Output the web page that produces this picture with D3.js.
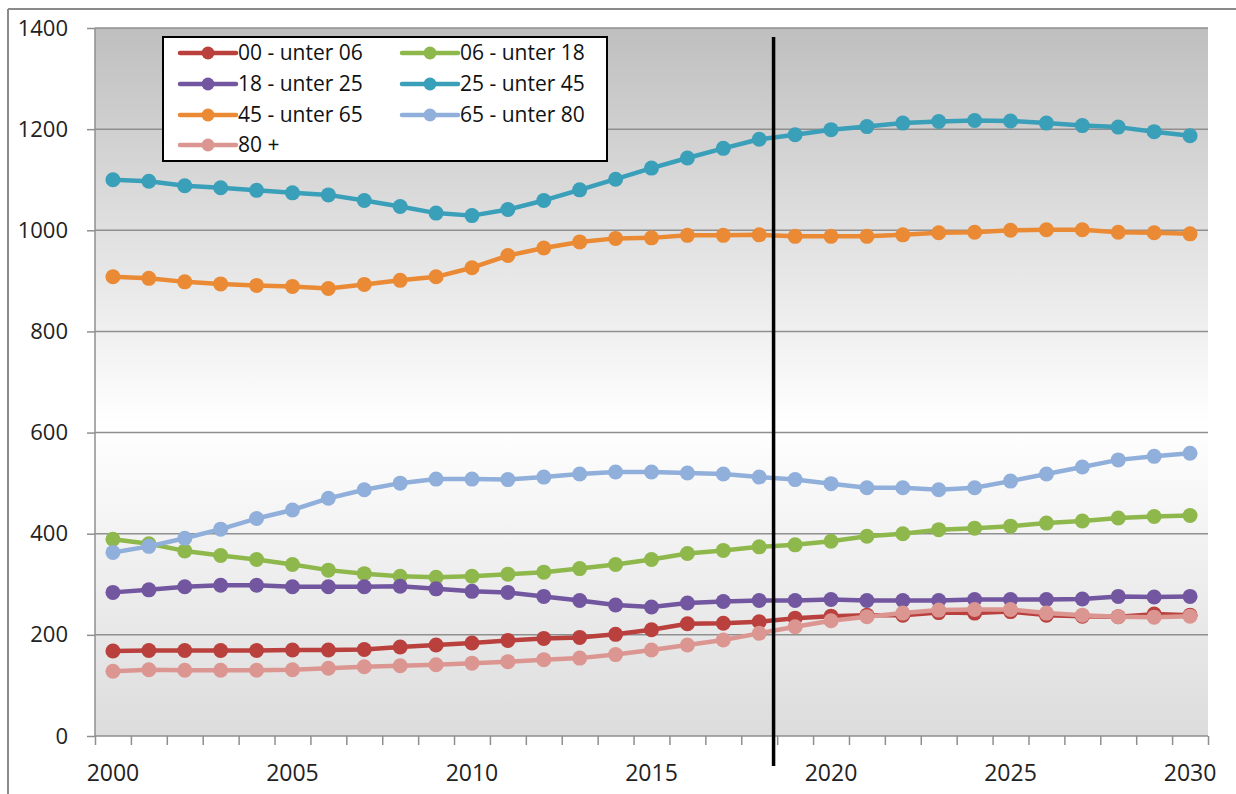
<!DOCTYPE html>
<html>
<head>
<meta charset="utf-8">
<script src="https://cdnjs.cloudflare.com/ajax/libs/d3/7.8.5/d3.min.js"></script>
<style>
  body { margin: 0; background: #fff; }
  svg { display: block; }
</style>
</head>
<body>
<div id="chart"></div>
<script>
var svgWidth = 1236;
var svgHeight = 794;

// chart data
var years = d3.range(2000, 2031);
var xTickLabels = [2000, 2005, 2010, 2015, 2020, 2025, 2030];
var yTickValues = [0, 200, 400, 600, 800, 1000, 1200, 1400];
var markerYear = 2018.4;

var seriesNames = ["00 - unter 06", "06 - unter 18", "18 - unter 25", "25 - unter 45",
  "45 - unter 65", "65 - unter 80", "80 +"];
var seriesColors = ["#b9403d", "#8fb84c", "#7256a0", "#3a9fb9", "#eb8a35", "#90afdb", "#dc9692"];

var age00_06 = [168, 169, 169, 169, 169, 170, 170, 171, 176, 180, 184, 189, 193, 195, 201, 210,
  222, 223, 226, 233, 237, 239, 239, 244, 243, 246, 239, 237, 236, 241, 239];
var age06_18 = [389, 380, 366, 357, 349, 339, 328, 321, 316, 314, 316, 320, 324, 331, 339, 349,
  361, 367, 374, 378, 385, 395, 400, 408, 411, 415, 421, 425, 431, 434, 436];
var age18_25 = [284, 289, 295, 298, 298, 295, 295, 295, 296, 291, 286, 284, 276, 268, 259, 255,
  263, 266, 268, 268, 270, 268, 268, 268, 270, 270, 270, 271, 276, 275, 276];
var age25_45 = [1100, 1097, 1088, 1084, 1079, 1074, 1070, 1059, 1047, 1034, 1029, 1041, 1059, 1080, 1101, 1123,
  1143, 1162, 1180, 1189, 1199, 1205, 1212, 1215, 1217, 1216, 1212, 1207, 1204, 1195, 1187];
var age45_65 = [908, 905, 898, 894, 891, 889, 885, 893, 901, 908, 926, 950, 965, 977, 984, 985,
  990, 990, 991, 988, 988, 988, 991, 995, 996, 1000, 1001, 1001, 996, 995, 993];
var age65_80 = [363, 375, 391, 409, 430, 447, 470, 487, 500, 508, 508, 507, 512, 518, 522, 522,
  520, 518, 512, 507, 499, 491, 491, 487, 491, 504, 518, 532, 546, 553, 559];
var age80plus = [128, 131, 130, 130, 130, 131, 134, 137, 139, 141, 144, 147, 151, 154, 161, 170,
  180, 190, 203, 216, 228, 236, 243, 249, 250, 250, 243, 239, 236, 235, 237];

var seriesValues = [age00_06, age06_18, age18_25, age25_45, age45_65, age65_80, age80plus];

var plot = { left: 95, right: 1208, top: 28, bottom: 736 };

var svg = d3.select("#chart")
  .append("svg")
  .attr("width", svgWidth)
  .attr("height", svgHeight);

// plot area background gradient (grey - white - grey)
var grad = svg.append("defs").append("linearGradient")
  .attr("id", "plotBg")
  .attr("x1", 0).attr("y1", 0).attr("x2", 0).attr("y2", 1);
grad.append("stop").attr("offset", "0%").attr("stop-color", "#bfbfbf");
grad.append("stop").attr("offset", "56%").attr("stop-color", "#ffffff");
grad.append("stop").attr("offset", "100%").attr("stop-color", "#dcdcdc");

// outer frame: only top and left edges are visible in the picture
svg.append("line")
  .attr("x1", 8).attr("x2", svgWidth).attr("y1", 9).attr("y2", 9)
  .attr("stroke", "#8a8a8a").attr("stroke-width", 2);
svg.append("line")
  .attr("x1", 8).attr("x2", 8).attr("y1", 9).attr("y2", svgHeight)
  .attr("stroke", "#8a8a8a").attr("stroke-width", 2);

var xScale = d3.scaleLinear()
  .domain([1999.5, 2030.5])
  .range([plot.left, plot.right]);

var yScale = d3.scaleLinear()
  .domain([0, 1400])
  .range([plot.bottom, plot.top]);

svg.append("rect")
  .attr("x", plot.left)
  .attr("y", plot.top)
  .attr("width", plot.right - plot.left)
  .attr("height", plot.bottom - plot.top)
  .attr("fill", "url(#plotBg)");

// horizontal gridlines
svg.append("g")
  .selectAll("line")
  .data(yTickValues.filter(d => d > 0))
  .enter()
  .append("line")
  .attr("x1", plot.left)
  .attr("x2", plot.right)
  .attr("y1", d => yScale(d))
  .attr("y2", d => yScale(d))
  .attr("stroke", "#8f8f8f")
  .attr("stroke-width", 1.5);

// y axis
var leftAxis = d3.axisLeft(yScale)
  .tickValues(yTickValues)
  .tickFormat(d3.format("d"))
  .tickSize(8)
  .tickPadding(19);

var yAxis = svg.append("g")
  .attr("transform", `translate(${plot.left}, 0)`)
  .call(leftAxis);
yAxis.select(".domain").attr("stroke", "#8f8f8f").attr("stroke-width", 1.5)
  .attr("d", `M0,${plot.top}V${plot.bottom}`);
yAxis.selectAll(".tick line").attr("stroke", "#8f8f8f").attr("stroke-width", 1.5);
yAxis.selectAll(".tick text")
  .attr("fill", "#222")
  .style("font-family", "'Open Sans', sans-serif")
  .style("font-size", "22px");

// x axis: ticks between the year categories, labels every 5 years
var bottomAxis = d3.axisBottom(xScale)
  .tickValues(d3.range(1999.5, 2031, 1))
  .tickSize(9)
  .tickFormat("");

var xAxis = svg.append("g")
  .attr("transform", `translate(0, ${plot.bottom})`)
  .call(bottomAxis);
xAxis.select(".domain").attr("stroke", "#8f8f8f").attr("stroke-width", 1.5)
  .attr("d", `M${plot.left},0H${plot.right}`);
xAxis.selectAll(".tick line").attr("stroke", "#8f8f8f").attr("stroke-width", 1.5);

svg.append("g")
  .selectAll("text")
  .data(xTickLabels)
  .enter()
  .append("text")
  .attr("x", d => xScale(d))
  .attr("y", 781)
  .attr("text-anchor", "middle")
  .attr("fill", "#222")
  .style("font-family", "'Open Sans', sans-serif")
  .style("font-size", "23px")
  .text(d => d);

// series lines and markers
var lineGen = d3.line()
  .x((d, i) => xScale(years[i]))
  .y(d => yScale(d));

seriesValues.forEach(function(values, s) {
  var g = svg.append("g");
  g.append("path")
    .datum(values)
    .attr("d", lineGen)
    .attr("fill", "none")
    .attr("stroke", seriesColors[s])
    .attr("stroke-width", 4.5)
    .attr("stroke-linejoin", "round");
  g.selectAll("circle")
    .data(values)
    .enter()
    .append("circle")
    .attr("cx", (d, i) => xScale(years[i]))
    .attr("cy", d => yScale(d))
    .attr("r", 7.5)
    .attr("fill", seriesColors[s]);
});

// vertical marker line
svg.append("line")
  .attr("x1", xScale(markerYear))
  .attr("x2", xScale(markerYear))
  .attr("y1", 37)
  .attr("y2", 766)
  .attr("stroke", "#000")
  .attr("stroke-width", 3.5);

// legend
var legend = svg.append("g");
legend.append("rect")
  .attr("x", 163)
  .attr("y", 37)
  .attr("width", 444)
  .attr("height", 124)
  .attr("fill", "#fff")
  .attr("stroke", "#000")
  .attr("stroke-width", 2);

var legendRows = [53, 84, 115, 145];
var legendCols = [180, 402];

seriesNames.forEach(function(name, s) {
  var lx = legendCols[s % 2];
  var ly = legendRows[Math.floor(s / 2)];
  legend.append("line")
    .attr("x1", lx).attr("x2", lx + 56)
    .attr("y1", ly).attr("y2", ly)
    .attr("stroke", seriesColors[s])
    .attr("stroke-width", 4.5)
    .attr("stroke-linecap", "round");
  legend.append("circle")
    .attr("cx", lx + 28)
    .attr("cy", ly)
    .attr("r", 6.5)
    .attr("fill", seriesColors[s]);
  legend.append("text")
    .attr("x", lx + 58)
    .attr("y", ly)
    .attr("dy", "0.35em")
    .attr("fill", "#111")
    .style("font-family", "'Open Sans', sans-serif")
    .style("font-size", "21px")
    .text(name);
});
</script>
</body>
</html>
